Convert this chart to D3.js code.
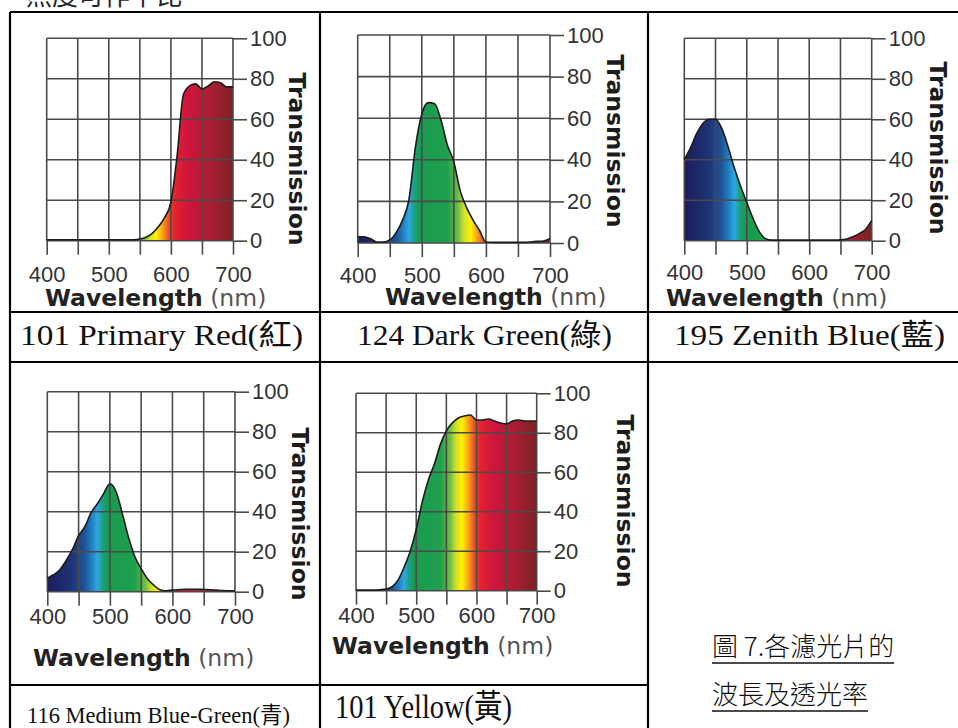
<!DOCTYPE html>
<html>
<head>
<meta charset="utf-8">
<script src="https://cdn.jsdelivr.net/npm/d3@7"></script>
<style>
  html, body { margin: 0; padding: 0; background: #fff; overflow: hidden; }
  svg { display: block; }
</style>
</head>
<body>
<svg id="chart" width="958" height="728"></svg>
<script>
// wavelength samples (nm) shared by every filter curve
const wavelengths = [400, 410, 420, 430, 440, 450, 460, 470, 480, 490, 500,
  510, 520, 530, 540, 550, 560, 570, 580, 590, 600,
  610, 620, 630, 640, 650, 660, 670, 680, 690, 700];

// transmission (%)
const primaryRed = [0.5, 0.5, 0.5, 0.5, 0.5, 0.5, 0.5, 0.5, 0.5, 0.5, 0.5,
  0.5, 0.5, 0.5, 0.5, 0.8, 1.7, 3.6, 7, 11.5, 19,
  42, 72, 76.5, 77.5, 75, 76.5, 78.5, 78, 76, 76];
const darkGreen = [3, 3, 2, 0.5, 0.5, 1.5, 5, 11, 21, 46, 62,
  67.5, 67, 59, 47, 39, 25, 17, 11, 6, 0.5,
  0.3, 0.3, 0.3, 0.3, 0.3, 0.3, 0.5, 0.8, 1, 2];
const zenithBlue = [40, 46, 53, 58, 60, 60, 55.5, 46.5, 36, 27, 19,
  11, 4.5, 1, 0.3, 0.3, 0.3, 0.3, 0.3, 0.3, 0.3,
  0.3, 0.3, 0.3, 0.3, 0.4, 0.8, 2, 3.5, 5.5, 10];
const mediumBlueGreen = [6.7, 8.5, 11, 15.5, 21, 28, 32.5, 39.5, 44, 49, 54,
  50, 39, 27, 17.5, 11.5, 6.5, 3.3, 1, 0.5, 0.8,
  1, 1.2, 1.2, 1.2, 1.1, 1, 0.8, 0.6, 0.5, 0.5];
const yellow = [0.3, 0.3, 0.3, 0.3, 0.5, 0.8, 2, 5.5, 12, 20, 31,
  45, 56, 64, 74, 81, 85, 87.5, 88.5, 89, 86.5,
  86.5, 87, 86, 85, 84.5, 86, 86.5, 86, 86, 86];

const xTicks = [400, 450, 500, 550, 600, 650, 700];
const xTickLabels = [400, 500, 600, 700];
const yTicks = [0, 20, 40, 60, 80, 100];

const filterNames = ["101 Primary Red(紅)", "124 Dark Green(綠)", "195 Zenith Blue(藍)",
  "116 Medium Blue-Green(青)", "101 Yellow(黃)"];
const captionLines = ["圖 7.各濾光片的", "波長及透光率"];

// visible spectrum used as the fill colour under each curve
const spectrum = [
  {wl: 400, c: "#1b1c5a"}, {wl: 440, c: "#1e3577"}, {wl: 460, c: "#1d5598"},
  {wl: 472, c: "#2184c6"}, {wl: 480, c: "#2aaae2"}, {wl: 488, c: "#1f9f86"},
  {wl: 496, c: "#1a9a50"}, {wl: 540, c: "#1fa04d"}, {wl: 556, c: "#6dbb45"},
  {wl: 566, c: "#cfe02a"}, {wl: 576, c: "#fff200"}, {wl: 586, c: "#f9a61b"},
  {wl: 596, c: "#ee5128"}, {wl: 606, c: "#e3242d"}, {wl: 625, c: "#d2153c"},
  {wl: 650, c: "#b91a36"}, {wl: 700, c: "#7c2326"}
];

const svg = d3.select("#chart");
const defs = svg.append("defs");

const GRID = "#4a4a4a";
const TICK = 14;
const SANS = "'Liberation Sans', Arial, sans-serif";
const BOLD = "'DejaVu Sans', Verdana, sans-serif";
const SERIF = "'Liberation Serif', 'Times New Roman', 'Noto Sans CJK TC', serif";

// plot boxes for every pasted graph in the table
const panels = [
  {series: primaryRed, x0: 46.7, x1: 233, y0: 38.3, y1: 240.7, tickY: 282, wlX: 45, wlY: 306, trX: 297, trY: 159},
  {series: darkGreen, x0: 357.7, x1: 550, y0: 35, y1: 243, tickY: 283, wlX: 385, wlY: 305, trX: 615, trY: 141},
  {series: zenithBlue, x0: 684.3, x1: 871.7, y0: 38.3, y1: 240.7, tickY: 280, wlX: 666, wlY: 306, trX: 938, trY: 148},
  {series: mediumBlueGreen, x0: 47.3, x1: 235, y0: 391.7, y1: 591.7, tickY: 624, wlX: 33, wlY: 666, trX: 300, trY: 514},
  {series: yellow, x0: 356, x1: 536.7, y0: 393.3, y1: 590.7, tickY: 623, wlX: 332, wlY: 654, trX: 625, trY: 501}
];

panels.forEach((p, i) => drawPanel(p, i));

function drawPanel(p, i) {
  const x = d3.scaleLinear().domain([400, 700]).range([p.x0, p.x1]);
  const y = d3.scaleLinear().domain([0, 100]).range([p.y1, p.y0]);
  const g = svg.append("g");

  const grad = defs.append("linearGradient")
    .attr("id", "spec" + i)
    .attr("gradientUnits", "userSpaceOnUse")
    .attr("x1", x(400)).attr("x2", x(700))
    .attr("y1", 0).attr("y2", 0);
  spectrum.forEach(s => grad.append("stop")
    .attr("offset", (s.wl - 400) / 300)
    .attr("stop-color", s.c));

  const pts = wavelengths.map((w, k) => [w, p.series[k]]);

  const area = d3.area()
    .x(d => x(d[0]))
    .y0(y(0))
    .y1(d => y(d[1]))
    .curve(d3.curveMonotoneX);

  const line = d3.line()
    .x(d => x(d[0]))
    .y(d => y(d[1]))
    .curve(d3.curveMonotoneX);

  g.append("path")
    .attr("d", area(pts))
    .attr("fill", `url(#spec${i})`);

  // grid over the fill
  g.append("g").selectAll("line")
    .data(xTicks)
    .join("line")
    .attr("x1", d => x(d)).attr("x2", d => x(d))
    .attr("y1", y(100)).attr("y2", y(0))
    .attr("stroke", GRID).attr("stroke-width", 1.6);
  g.append("g").selectAll("line")
    .data(yTicks)
    .join("line")
    .attr("x1", x(400)).attr("x2", x(700))
    .attr("y1", d => y(d)).attr("y2", d => y(d))
    .attr("stroke", GRID).attr("stroke-width", 1.6);

  g.append("path")
    .attr("d", line(pts))
    .attr("fill", "none")
    .attr("stroke", "#1c1c1c")
    .attr("stroke-width", 1.6);

  // right axis with labels
  const yAxis = g.append("g")
    .attr("transform", `translate(${p.x1},0)`)
    .call(d3.axisRight(y).tickValues(yTicks).tickSize(TICK).tickPadding(3));
  yAxis.select(".domain").remove();
  yAxis.selectAll("line").attr("stroke", GRID).attr("stroke-width", 1.6);
  yAxis.selectAll("text")
    .attr("font-family", SANS).attr("font-size", 22).attr("fill", "#333");

  // bottom axis, labelled every 100 nm
  const xAxis = g.append("g")
    .attr("transform", `translate(0,${p.y1})`)
    .call(d3.axisBottom(x).tickValues(xTicks).tickSize(TICK)
      .tickFormat(d => xTickLabels.includes(d) ? d : ""));
  xAxis.select(".domain").remove();
  xAxis.selectAll("line").attr("stroke", GRID).attr("stroke-width", 1.6);
  xAxis.selectAll("text")
    .attr("y", p.tickY - p.y1).attr("dy", 0)
    .attr("font-family", SANS).attr("font-size", 22).attr("fill", "#333");

  const wl = g.append("text")
    .attr("x", p.wlX).attr("y", p.wlY)
    .attr("font-family", BOLD).attr("font-size", 23.5);
  wl.append("tspan").attr("font-weight", "bold").attr("fill", "#222").text("Wavelength");
  wl.append("tspan").attr("fill", "#555").text(" (nm)");

  g.append("text")
    .attr("transform", `translate(${p.trX},${p.trY}) rotate(90)`)
    .attr("text-anchor", "middle")
    .attr("dominant-baseline", "central")
    .attr("font-family", BOLD).attr("font-size", 23.5)
    .attr("font-weight", "bold").attr("fill", "#1c1c1c")
    .text("Transmission");
}

// table rules
const rules = [
  [10, 12, 975, 12], [10, 312, 975, 312], [10, 362, 975, 362], [10, 685, 648, 685],
  [10, 12, 10, 728], [320, 12, 320, 728], [648, 12, 648, 728], [971, 12, 971, 728]
];
svg.append("g").selectAll("line")
  .data(rules)
  .join("line")
  .attr("x1", d => d[0]).attr("y1", d => d[1])
  .attr("x2", d => d[2]).attr("y2", d => d[3])
  .attr("stroke", "#000").attr("stroke-width", 2.2);

// filter names under the graphs
const nameBoxes = [
  {x: 20, y: 345, w: 283, size: 30},
  {x: 357, y: 345, w: 255, size: 30},
  {x: 674, y: 345, w: 271, size: 30},
  {x: 27, y: 723, w: 263, size: 22.5},
  {x: 335, y: 718, w: 177, size: 33}
];
svg.append("g").selectAll("text")
  .data(filterNames)
  .join("text")
  .attr("x", (d, i) => nameBoxes[i].x)
  .attr("y", (d, i) => nameBoxes[i].y)
  .attr("textLength", (d, i) => nameBoxes[i].w)
  .attr("lengthAdjust", "spacingAndGlyphs")
  .attr("font-family", SERIF)
  .attr("font-size", (d, i) => nameBoxes[i].size)
  .attr("fill", "#111")
  .text(d => d);

// caption in the merged cell
const cap = svg.append("g")
  .attr("font-family", "'Noto Sans CJK TC', sans-serif")
  .attr("font-size", 26).attr("font-weight", 300).attr("fill", "#111");
captionLines.forEach((t, i) => {
  const yy = 656 + i * 48;
  const tx = cap.append("text").attr("x", 712).attr("y", yy).text(t);
  const w = tx.node().getComputedTextLength();
  cap.append("line")
    .attr("x1", 712).attr("x2", 712 + w)
    .attr("y1", yy + 7).attr("y2", yy + 7)
    .attr("stroke", "#111").attr("stroke-width", 1.6);
});

// tail of the paragraph line above the table (cut off by the crop)
svg.append("text")
  .attr("x", 0).attr("y", 5)
  .attr("font-family", "'Noto Sans CJK TC', sans-serif")
  .attr("font-size", 26).attr("fill", "#222")
  .text("，照度可作平比");
</script>
</body>
</html>
